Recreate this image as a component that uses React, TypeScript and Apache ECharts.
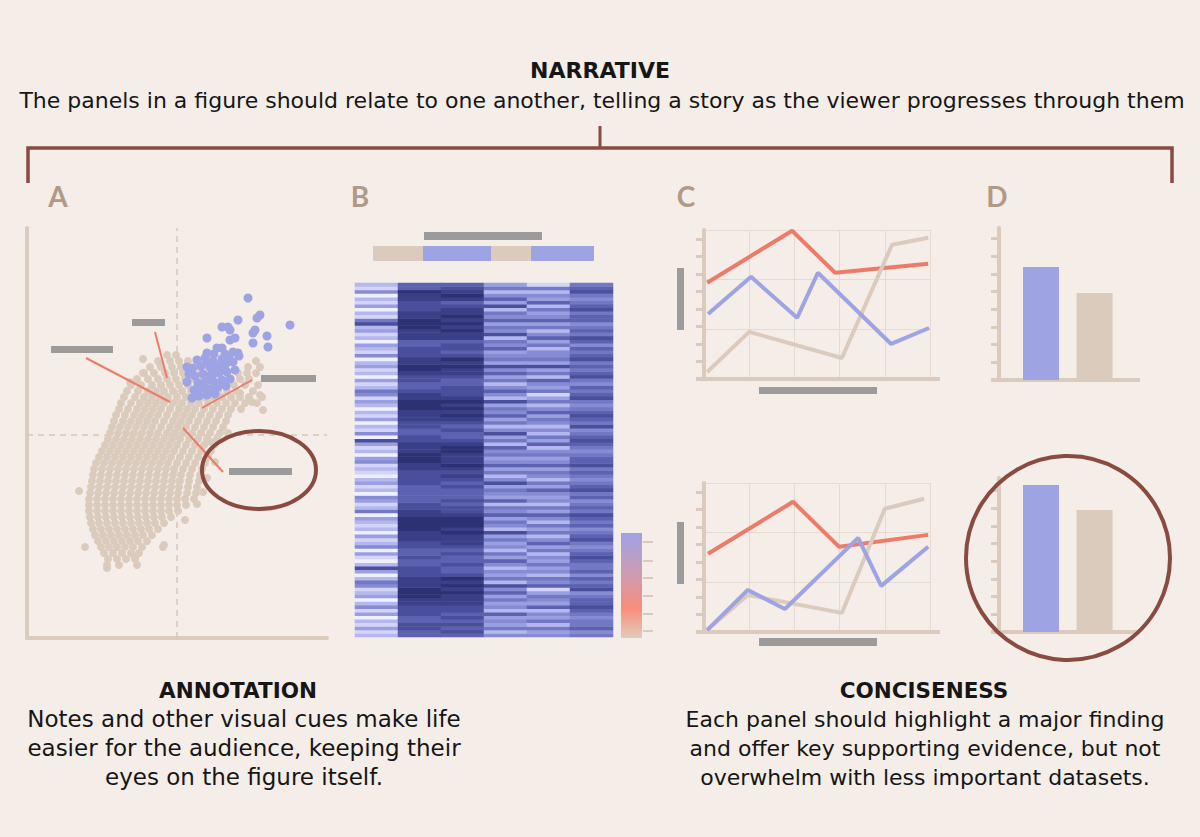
import React, { useEffect, useRef } from 'react';
import * as echarts from 'echarts';

const BG = '#f4ede8';
const BEIGE = '#dbcbbd';
const BLUE = '#9ea3e3';
const RED = '#ee7b6a';
const BROWN = '#8a4a40';
const GRAY = '#9b9b9b';
const LETTER = '#b09a85';
const GRIDLINE = '#e6dbd0';
const INK = '#161616';
const FONT = "'DejaVu Sans', 'Open Sans', sans-serif";
const LETTER_FONT = "Lato, 'Open Sans', sans-serif";

// ---------- Panel A : scatter (x, y in axis units) ----------
const beigeRows: [number, number[]][] = [
  [283, [140, 149]],
  [277, [131, 143, 152, 161, 229]],
  [271, [123, 134, 145, 154, 163, 172, 181, 221, 233]],
  [265, [116, 127, 138, 147, 156, 165, 174, 183, 211, 220, 229]],
  [259, [110, 121, 131, 140, 149, 158, 167, 176, 185, 204, 213, 222]],
  [253, [104, 114, 125, 134, 143, 152, 161, 170, 179, 188, 197, 207, 218, 231]],
  [247, [100, 111, 121, 129, 137, 146, 155, 164, 173, 182, 191, 200, 209, 226]],
  [241, [97, 108, 117, 125, 133, 141, 150, 159, 168, 177, 186, 195, 204, 213, 222, 235]],
  [235, [94, 104, 113, 121, 129, 137, 146, 155, 164, 172, 181, 190, 199, 208, 218, 230]],
  [229, [92, 101, 110, 118, 126, 134, 143, 152, 160, 168, 177, 186, 195, 204, 214]],
  [223, [89, 98, 107, 115, 123, 131, 140, 149, 157, 165, 174, 183, 192, 201]],
  [217, [87, 96, 104, 112, 120, 128, 137, 146, 154, 162, 171, 180, 189, 199]],
  [211, [85, 93, 101, 109, 117, 125, 134, 143, 151, 159, 168, 177, 186, 196]],
  [205, [83, 91, 99, 107, 115, 123, 131, 140, 148, 156, 165, 174, 183, 193, 201]],
  [199, [81, 89, 97, 105, 113, 121, 129, 137, 145, 153, 162, 171, 180, 190]],
  [193, [78, 86, 94, 102, 110, 118, 126, 134, 142, 150, 159, 168, 177, 187]],
  [187, [75, 83, 91, 99, 107, 115, 123, 131, 139, 147, 156, 165, 174, 184]],
  [181, [72, 80, 88, 96, 104, 112, 120, 128, 136, 144, 153, 162, 171, 181]],
  [175, [69, 77, 85, 93, 101, 109, 117, 125, 133, 141, 150, 159, 168, 178]],
  [169, [67, 75, 83, 91, 99, 107, 115, 123, 131, 139, 147, 156, 165, 175]],
  [163, [66, 74, 82, 90, 98, 106, 114, 122, 130, 138, 146, 154, 163, 173]],
  [157, [65, 73, 81, 89, 97, 105, 113, 121, 129, 137, 145, 153, 162, 172]],
  [151, [64, 72, 80, 88, 96, 104, 112, 120, 128, 136, 144, 152, 161, 170]],
  [145, [63, 71, 79, 87, 95, 103, 111, 119, 127, 135, 143, 151, 160, 169]],
  [139, [62, 70, 78, 86, 94, 102, 110, 118, 126, 134, 142, 150, 158, 167]],
  [133, [62, 70, 78, 86, 94, 102, 110, 118, 126, 134, 142, 150, 159]],
  [127, [62, 70, 78, 86, 94, 102, 110, 118, 126, 134, 142, 151]],
  [121, [63, 71, 79, 87, 95, 103, 111, 119, 127, 135, 144]],
  [115, [64, 72, 80, 88, 96, 104, 112, 120, 128, 137]],
  [109, [66, 74, 82, 90, 98, 106, 114, 122, 131]],
  [103, [68, 76, 84, 92, 100, 108, 116, 125]],
  [97, [71, 79, 87, 95, 103, 111, 120]],
  [91, [58, 74, 82, 90, 98, 106, 115, 136]],
  [85, [77, 86, 95, 104, 112]],
  [79, [81, 90, 99, 108]],
  [73, [80, 92, 110]],
];
const beigeExtra: [number, number][] = [
  [52, 147], [116, 279], [117, 265], [108, 81], [80, 70], [133, 274],
  [137, 93], [233, 243], [236, 228], [225, 236], [213, 245], [103, 256],
  [184, 196], [188, 176], [180, 160], [176, 146], [170, 134], [158, 118],
];
const bluePoints: [number, number][] = [
  [221, 340], [233, 323], [230, 320], [263, 313], [211, 318], [195, 311],
  [201, 311], [203, 308], [228, 308], [226, 305], [240, 302], [180, 300],
  [203, 298], [208, 300], [226, 295], [241, 291], [190, 290], [195, 290],
  [211, 285], [180, 285], [160, 271], [206, 286], [198, 284],
  [170, 278], [178, 280], [186, 277], [195, 279], [202, 282], [166, 270],
  [174, 272], [183, 271], [191, 273], [199, 274], [206, 276], [168, 262],
  [176, 264], [184, 263], [192, 265], [200, 266], [171, 255], [179, 257],
  [187, 256], [195, 258], [203, 259], [167, 248], [175, 250], [183, 249],
  [191, 251], [199, 252], [172, 242], [180, 243], [188, 244], [165, 240],
  [160, 256], [162, 264], [208, 268], [212, 282], [187, 284], [181, 276],
  [189, 268], [197, 270], [185, 260], [177, 253], [170, 247],
];
const annotationLinks: [number, number][][] = [
  [[59, 280], [143, 236]],
  [[128, 306], [140, 260]],
  [[225, 258], [175, 230]],
  [[156, 210], [196, 166]],
];
const thresholdX = 150;
const thresholdY = 203;

// ---------- Panel B : heatmap (digit = intensity 0..9) ----------
const heatColumns: string[] = [
  '2131203142' + '0321452037' + '2013042130' + '2123052134' + '0213201214' +
    '3021370412' + '0312023145' + '2130213204' + '1230213275' + '1203120412',
  '6677667778' + '8999888777' + '6676677888' + '9999887766' + '6667777889' +
    '9988877667' + '7888999887' + '6677899887' + '7766888999' + '8877788966',
  '6767676778' + '8898989766' + '7667678889' + '8999877676' + '6676787898' +
    '8899876676' + '7898989877' + '7667889897' + '6776889898' + '9887689876',
  '4253436243' + '5364725342' + '4635243537' + '2453645263' + '4537425364' +
    '3546253742' + '5364537246' + '4253647354' + '3645274536' + '4527364253',
  '4352534263' + '4531645243' + '5342536425' + '3524635243' + '4635245364' +
    '3542635242' + '4536425315' + '3462537354' + '4253642536' + '4352634251',
  '5465545676' + '6547656465' + '5676545765' + '4656756546' + '5765456576' +
    '6545676547' + '5676545765' + '6457656576' + '5646756546' + '6576545765',
];
const heatColumnNames = ['s1', 's2', 's3', 's4', 's5', 's6'];
const heatPalette = ['#eef0ff', '#d2d5f7', '#b4b8ee', '#9a9fe2', '#868bd4', '#7378c4', '#5d62b0', '#4a4f9c', '#3a3f88', '#2c3174'];

// ---------- Panel C : line charts ----------
const cTopRed: [number, number][] = [[0.07, 5.49], [1.95, 8.46], [2.9, 6.06], [4.96, 6.57]];
const cTopBlue: [number, number][] = [[0.09, 3.71], [1.04, 5.83], [2.06, 3.49], [2.52, 6.06], [4.14, 2.0], [4.98, 2.91]];
const cTopBeige: [number, number][] = [[0.07, 0.4], [1.0, 2.69], [3.05, 1.2], [4.16, 7.66], [4.96, 8.06]];
const cBotRed: [number, number][] = [[0.09, 4.46], [1.97, 7.43], [2.99, 4.86], [4.96, 5.54]];
const cBotBlue: [number, number][] = [[0.07, 0.11], [0.97, 2.4], [1.79, 1.31], [3.41, 5.37], [3.92, 2.63], [4.96, 4.86]];
const cBotBeige: [number, number][] = [[0.07, 0.11], [0.97, 2.11], [3.05, 1.09], [4.0, 7.03], [4.87, 7.6]];

// ---------- Panel D : bar charts ----------
const dBarPositions = [1.49, 3.39];
const dTopValues = [6.4, 4.92];
const dBotValues = [8.3, 6.89];
const dBarColors = [BLUE, BEIGE];

const tickValues = [1, 2, 3, 4, 5, 6, 7, 8];

// ---------- captions ----------
const annotationLines = [
  'Notes and other visual cues make life',
  'easier for the audience, keeping their',
  'eyes on the figure itself.',
];
const concisenessLines = [
  'Each panel should highlight a major finding',
  'and offer key supporting evidence, but not',
  'overwhelm with less important datasets.',
];

function hiddenValueAxis(gridIndex: number, min: number, max: number, extra: any = {}) {
  return {
    type: 'value', gridIndex, min, max,
    axisLine: { show: false }, axisTick: { show: false }, axisLabel: { show: false },
    splitLine: { show: false }, ...extra,
  };
}

function tickAxis(gridIndex: number, max: number) {
  return {
    type: 'value', gridIndex, min: 0, max, position: 'left',
    axisLine: { show: true, lineStyle: { color: BEIGE, width: 4 } },
    axisTick: { show: true, customValues: tickValues, length: 8, lineStyle: { color: BEIGE, width: 3 } },
    axisLabel: { show: false }, splitLine: { show: false },
  };
}

function splitAxis(gridIndex: number) {
  return {
    type: 'value', gridIndex, min: 0, max: 3, interval: 1, position: 'left',
    axisLine: { show: false }, axisTick: { show: false }, axisLabel: { show: false },
    splitLine: { show: true, lineStyle: { color: GRIDLINE, width: 1 } },
  };
}

function lineSeries(x: number, y: number, data: [number, number][], color: string) {
  return {
    type: 'line', xAxisIndex: x, yAxisIndex: y, data, symbol: 'none', z: 3,
    lineStyle: { color, width: 4 }, itemStyle: { color },
  };
}

function text(str: string, x: number, y: number, font: string, fill = INK, lineHeight?: number) {
  return {
    type: 'text', x, y, z: 50,
    style: {
      text: str, font, fill, align: 'center', verticalAlign: 'middle',
      textAlign: 'center', textVerticalAlign: 'middle', ...(lineHeight ? { lineHeight } : {}),
    },
  };
}
function rect(x: number, y: number, w: number, h: number, fill: string) {
  return { type: 'rect', shape: { x, y, width: w, height: h }, style: { fill }, z: 10 };
}
function hline(x1: number, x2: number, y: number, color: string, width: number) {
  return { type: 'line', shape: { x1, y1: y, x2, y2: y }, style: { stroke: color, lineWidth: width }, z: 1 };
}

export default function App() {
  const ref = useRef<HTMLDivElement>(null);
  useEffect(() => {
    if (!ref.current) return;
    const chart = echarts.init(ref.current, null, { renderer: 'svg' });

    const beigePoints = beigeRows
      .flatMap(([y, xs]) => xs.map((x) => [x, y] as [number, number]))
      .concat(beigeExtra);

    const rowCount = Math.max(...heatColumns.map((c) => c.length));
    const rowNames = Array.from({ length: rowCount }, (_, i) => 'r' + i);
    const heatData: [number, number, number][] = [];
    heatColumns.forEach((col, ci) => {
      col.split('').forEach((d, ri) => heatData.push([ci, ri, Number(d)]));
    });

    const option: any = {
      animation: false,
      backgroundColor: BG,
      grid: [
        { left: 27, top: 228, width: 300, height: 410 },
        { left: 355, top: 283, width: 258, height: 354 },
        { left: 704, top: 230, width: 226, height: 149 },
        { left: 704, top: 483, width: 226, height: 149 },
        { left: 999, top: 228, width: 141, height: 152 },
        { left: 999, top: 478, width: 141, height: 154 },
      ],
      xAxis: [
        {
          type: 'value', gridIndex: 0, min: 0, max: 300,
          axisLine: { show: true, lineStyle: { color: BEIGE, width: 4 } },
          axisTick: { show: false }, axisLabel: { show: false }, splitLine: { show: false },
        },
        {
          type: 'category', gridIndex: 1, data: heatColumnNames,
          axisLine: { show: false }, axisTick: { show: false }, axisLabel: { show: false },
        },
        hiddenValueAxis(2, 0, 5, { interval: 1, splitLine: { show: true, lineStyle: { color: GRIDLINE, width: 1 } } }),
        hiddenValueAxis(3, 0, 5, { interval: 1, splitLine: { show: true, lineStyle: { color: GRIDLINE, width: 1 } } }),
        hiddenValueAxis(4, 0, 5),
        hiddenValueAxis(5, 0, 5),
      ],
      yAxis: [
        {
          type: 'value', gridIndex: 0, min: 0, max: 410,
          axisLine: { show: true, lineStyle: { color: BEIGE, width: 4 } },
          axisTick: { show: false }, axisLabel: { show: false }, splitLine: { show: false },
        },
        {
          type: 'category', gridIndex: 1, data: rowNames,
          axisLine: { show: false }, axisTick: { show: false }, axisLabel: { show: false },
        },
        tickAxis(2, 8.5),
        splitAxis(2),
        tickAxis(3, 8.5),
        splitAxis(3),
        tickAxis(4, 8.6),
        tickAxis(5, 8.7),
      ],
      visualMap: [
        { type: 'continuous', seriesIndex: 4, min: 0, max: 9, show: false, inRange: { color: heatPalette } },
      ],
      series: [
        {
          type: 'line', xAxisIndex: 0, yAxisIndex: 0, symbol: 'none', z: 1,
          data: [[thresholdX, 0], [thresholdX, 410]],
          lineStyle: { color: '#d6c6b8', width: 1.5, type: [6, 5] },
        },
        {
          type: 'line', xAxisIndex: 0, yAxisIndex: 0, symbol: 'none', z: 1,
          data: [[0, thresholdY], [300, thresholdY]],
          lineStyle: { color: '#d6c6b8', width: 1.5, type: [6, 5] },
        },
        {
          type: 'scatter', xAxisIndex: 0, yAxisIndex: 0, data: beigePoints,
          symbolSize: 8, itemStyle: { color: BEIGE, opacity: 1 }, z: 2,
        },
        {
          type: 'scatter', xAxisIndex: 0, yAxisIndex: 0, data: bluePoints,
          symbolSize: 9, itemStyle: { color: BLUE, opacity: 1 }, z: 3,
        },
        {
          type: 'heatmap', xAxisIndex: 1, yAxisIndex: 1, data: heatData,
        },
        {
          type: 'lines', coordinateSystem: 'cartesian2d', xAxisIndex: 0, yAxisIndex: 0, z: 5,
          data: annotationLinks.map((c) => ({ coords: c })),
          lineStyle: { color: RED, width: 2, opacity: 1 },
        },
        lineSeries(2, 2, cTopRed, RED),
        lineSeries(2, 2, cTopBeige, BEIGE),
        lineSeries(2, 2, cTopBlue, BLUE),
        lineSeries(3, 4, cBotRed, RED),
        lineSeries(3, 4, cBotBeige, BEIGE),
        lineSeries(3, 4, cBotBlue, BLUE),
        {
          type: 'bar', xAxisIndex: 4, yAxisIndex: 6, barWidth: 36,
          data: dTopValues.map((v, i) => ({ value: [dBarPositions[i], v], itemStyle: { color: dBarColors[i] } })),
        },
        {
          type: 'bar', xAxisIndex: 5, yAxisIndex: 7, barWidth: 36,
          data: dBotValues.map((v, i) => ({ value: [dBarPositions[i], v], itemStyle: { color: dBarColors[i] } })),
        },
      ],
      graphic: [
        // headline
        text('NARRATIVE', 600, 70, `bold 22px ${FONT}`),
        text('The panels in a figure should relate to one another, telling a story as the viewer progresses through them', 602, 100, `22px ${FONT}`),
        // bracket
        {
          type: 'polyline', z: 20,
          shape: { points: [[28, 183], [28, 148], [1172, 148], [1172, 183]] },
          style: { stroke: BROWN, lineWidth: 3.5, fill: null },
        },
        { type: 'line', z: 20, shape: { x1: 600, y1: 126, x2: 600, y2: 148 }, style: { stroke: BROWN, lineWidth: 3 } },
        // panel letters
        text('A', 58, 196, `bold 28px ${LETTER_FONT}`, LETTER),
        text('B', 360, 196, `bold 28px ${LETTER_FONT}`, LETTER),
        text('C', 686, 196, `bold 28px ${LETTER_FONT}`, LETTER),
        text('D', 997, 196, `bold 28px ${LETTER_FONT}`, LETTER),
        // panel A label placeholders + highlight
        rect(51, 346, 62, 7, GRAY),
        rect(132, 319, 33, 7, GRAY),
        rect(261, 375, 55, 7, GRAY),
        rect(229, 468, 63, 7, GRAY),
        { type: 'ellipse', z: 30, shape: { cx: 259, cy: 470, rx: 57, ry: 39 }, style: { stroke: BROWN, lineWidth: 4, fill: null } },
        // panel B header strips + colour bar
        rect(424, 232, 118, 8, GRAY),
        rect(373, 246, 50, 15, BEIGE),
        rect(423, 246, 68, 15, BLUE),
        rect(491, 246, 40, 15, BEIGE),
        rect(531, 246, 63, 15, BLUE),
        {
          type: 'rect', z: 10, shape: { x: 621, y: 533, width: 21, height: 105 },
          style: {
            fill: new echarts.graphic.LinearGradient(0, 0, 0, 1, [
              { offset: 0, color: BLUE },
              { offset: 0.4, color: '#cf9bb0' },
              { offset: 0.72, color: '#f98e7a' },
              { offset: 1, color: '#e0ccbe' },
            ]),
          },
        },
        ...[542, 561, 578, 596, 614, 631].map((y) => hline(643, 653, y, BEIGE, 2)),
        // panel C placeholders + baselines
        rect(677, 268, 7, 62, GRAY),
        rect(759, 387, 118, 7, GRAY),
        rect(677, 522, 7, 62, GRAY),
        rect(759, 638, 118, 8, GRAY),
        hline(696, 940, 379, BEIGE, 4),
        hline(696, 940, 632, BEIGE, 4),
        // panel D baselines + highlight
        hline(991, 1140, 380, BEIGE, 4),
        hline(991, 1140, 632, BEIGE, 4),
        { type: 'circle', z: 30, shape: { cx: 1068, cy: 558, r: 102 }, style: { stroke: BROWN, lineWidth: 4, fill: null } },
        // bottom captions
        text('ANNOTATION', 238, 690, `bold 21.5px ${FONT}`),
        text(annotationLines.join('\n'), 244, 748, `23px ${FONT}`, INK, 29),
        text('CONCISENESS', 924, 690, `bold 21.5px ${FONT}`),
        text(concisenessLines.join('\n'), 925, 748, `22px ${FONT}`, INK, 29),
      ],
    };
    chart.setOption(option);
    return () => chart.dispose();
  }, []);
  return <div ref={ref} style={{ position: 'fixed', left: 0, top: 0, width: 1200, height: 837 }} />;
}
